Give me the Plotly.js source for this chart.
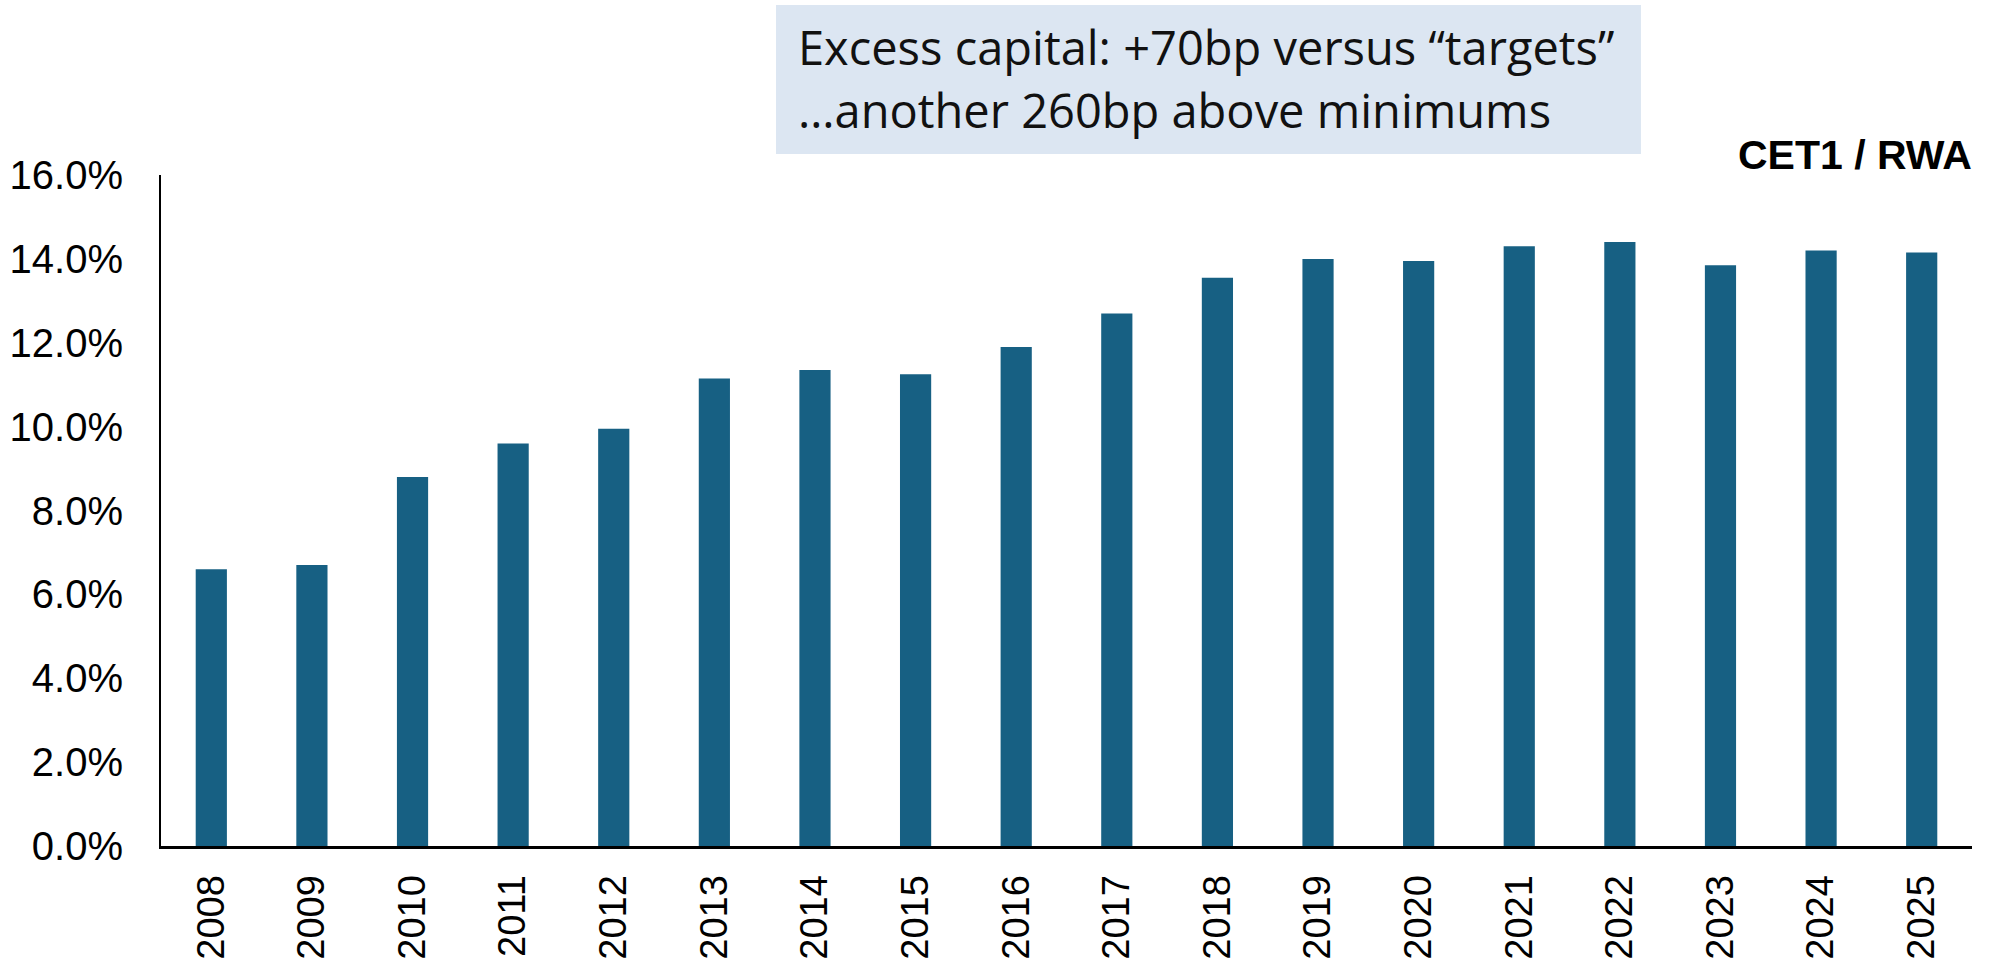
<!DOCTYPE html>
<html>
<head>
<meta charset="utf-8">
<script src="https://cdn.plot.ly/plotly-3.0.1.min.js"></script>
<style>
html,body{margin:0;padding:0;background:#fff;}
#chart{width:1991px;height:964px;}
</style>
</head>
<body>
<div id="chart"></div>
<script>
const years = ["2008","2009","2010","2011","2012","2013","2014","2015","2016","2017","2018","2019","2020","2021","2022","2023","2024","2025"];
const cet1Ratio = [6.6, 6.7, 8.8, 9.6, 9.95, 11.15, 11.35, 11.25, 11.9, 12.7, 13.55, 14.0, 13.95, 14.3, 14.4, 13.85, 14.2, 14.15];
const yTickVals = [0, 2, 4, 6, 8, 10, 12, 14, 16];
const yTickText = ["0.0%", "2.0%", "4.0%", "6.0%", "8.0%", "10.0%", "12.0%", "14.0%", "16.0%"];
const boxLine1 = "Excess capital: +70bp versus “targets”";
const boxLine2 = "…another 260bp above minimums";
const seriesLabel = "CET1 / RWA";

const trace = {
  type: "bar",
  x: years,
  y: cet1Ratio,
  marker: {color: "#176083"},
  hoverinfo: "x+y"
};

const layout = {
  width: 1991,
  height: 964,
  margin: {l: 161, r: 19, t: 175, b: 118, pad: 0},
  paper_bgcolor: "#ffffff",
  plot_bgcolor: "#ffffff",
  showlegend: false,
  bargap: 0.69,
  font: {family: "Liberation Sans, Arial, sans-serif", size: 38, color: "#000"},
  xaxis: {
    type: "category",
    range: [-0.5, 17.5],
    showline: true,
    linecolor: "#000",
    linewidth: 3,
    showgrid: false,
    zeroline: false,
    ticks: "",
    tickangle: -90,
    ticklabelstandoff: 11,
    tickfont: {family: "Liberation Sans, Arial, sans-serif", size: 38, color: "#000"}
  },
  yaxis: {
    range: [0, 16],
    tickmode: "array",
    tickvals: yTickVals,
    ticktext: yTickText,
    showline: true,
    linecolor: "#000",
    linewidth: 2,
    showgrid: false,
    zeroline: false,
    ticks: "",
    ticklabelstandoff: 28,
    tickfont: {family: "Liberation Sans, Arial, sans-serif", size: 40, color: "#000"}
  },
  shapes: [{
    type: "rect",
    xref: "paper", yref: "paper",
    x0: 0.3396, x1: 0.8172, y0: 1.0313, y1: 1.2534,
    fillcolor: "#DCE6F2",
    line: {width: 0},
    layer: "below"
  }],
  annotations: [
    {xref: "paper", yref: "paper", x: 0.3505, y: 1.1908, xanchor: "left", yanchor: "middle",
     text: boxLine1, showarrow: false,
     font: {family: "Open Sans, sans-serif", size: 47, color: "#111"}},
    {xref: "paper", yref: "paper", x: 0.3505, y: 1.0969, xanchor: "left", yanchor: "middle",
     text: boxLine2, showarrow: false,
     font: {family: "Open Sans, sans-serif", size: 47, color: "#111"}},
    {xref: "paper", yref: "paper", x: 1.0012, y: 1.0298, xanchor: "right", yanchor: "middle",
     text: "<b>" + seriesLabel + "</b>", showarrow: false,
     font: {family: "Liberation Sans, Arial, sans-serif", size: 41, color: "#000"}}
  ]
};

Plotly.newPlot("chart", [trace], layout, {displayModeBar: false, staticPlot: true});
</script>
</body>
</html>
